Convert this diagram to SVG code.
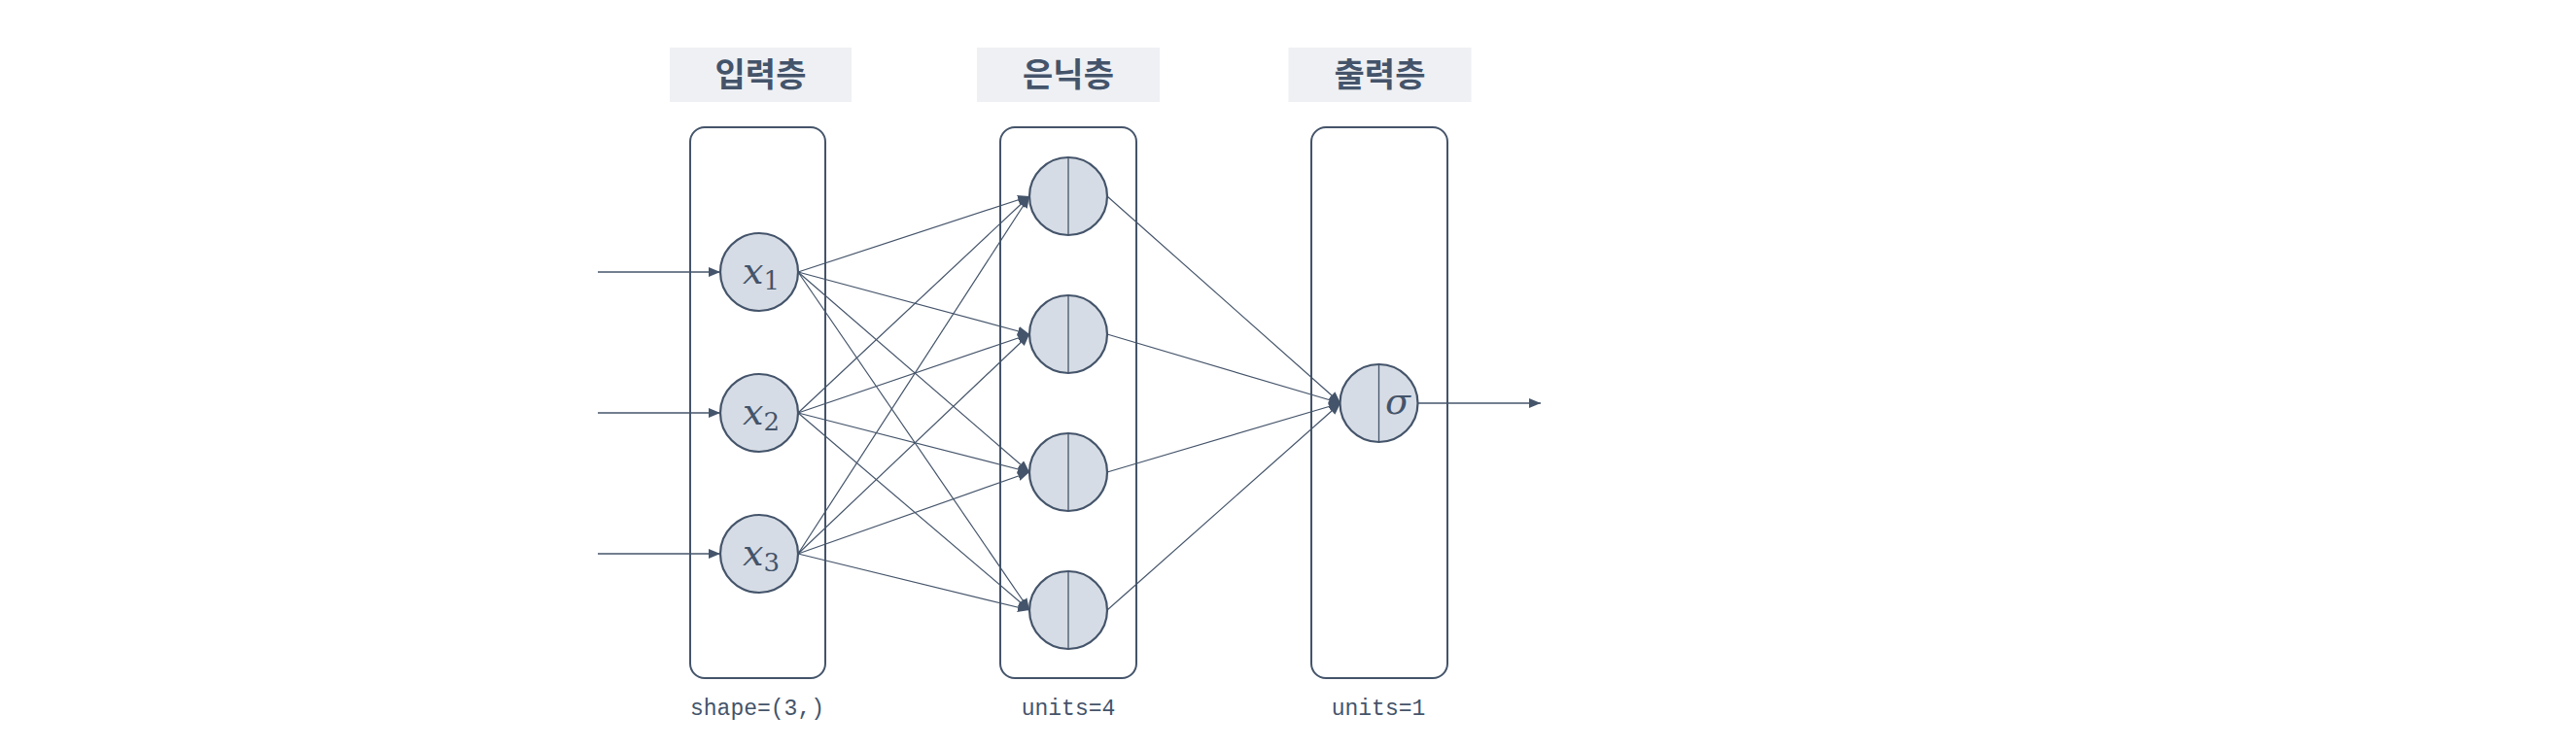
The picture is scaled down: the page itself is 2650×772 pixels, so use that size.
<svg xmlns="http://www.w3.org/2000/svg" width="2650" height="772" viewBox="0 0 2650 772">
<style>
.hdr{fill:#EEF0F4}
.hdrt{font-family:"Noto Sans CJK KR",sans-serif;font-weight:bold;font-size:34px;fill:#44546A;text-anchor:middle}
.layer{fill:none;stroke:#44546A;stroke-width:2}
.node{fill:#D6DCE5;stroke:#44546A;stroke-width:2.2}
.div{stroke:#44546A;stroke-width:1.3}
.conn{stroke:#44546A;stroke-width:1.2;fill:none}
.inout{stroke:#44546A;stroke-width:1.4;fill:none}
.math{font-family:"DejaVu Serif",serif;font-style:italic;font-size:38px;fill:#44546A}
.sub{font-style:normal;font-size:26px}
.lbl{font-family:"Liberation Mono",monospace;font-size:23px;fill:#44546A;text-anchor:middle}
</style>
<defs>
<marker id="arr" markerUnits="userSpaceOnUse" markerWidth="13" markerHeight="11" refX="12" refY="5" orient="auto">
<path d="M0,0 L12,5 L0,10 z" fill="#44546A"/>
</marker>
</defs>
<rect width="2650" height="772" fill="#FFFFFF"/>

<g id="header-input"><rect class="hdr" x="689" y="49" width="187" height="56"/><text class="hdrt" x="782.5" y="89">입력층</text></g>
<g id="header-hidden"><rect class="hdr" x="1005" y="49" width="188" height="56"/><text class="hdrt" x="1099" y="89">은닉층</text></g>
<g id="header-output"><rect class="hdr" x="1325.5" y="49" width="188" height="56"/><text class="hdrt" x="1419.5" y="89">출력층</text></g>

<g id="layer-input"><rect class="layer" x="710" y="131" width="139" height="567" rx="15"/><text class="lbl" x="779" y="736">shape=(3,)</text></g>
<g id="layer-hidden"><rect class="layer" x="1029" y="131" width="140" height="567" rx="15"/><text class="lbl" x="1099" y="736">units=4</text></g>
<g id="layer-output"><rect class="layer" x="1349" y="131" width="140" height="567" rx="15"/><text class="lbl" x="1418" y="736">units=1</text></g>

<g id="connectors">
<line class="inout" x1="615" y1="280" x2="741" y2="280" marker-end="url(#arr)"/>
<line class="inout" x1="615" y1="425" x2="741" y2="425" marker-end="url(#arr)"/>
<line class="inout" x1="615" y1="570" x2="741" y2="570" marker-end="url(#arr)"/>

<line class="conn" x1="821" y1="280" x2="1059" y2="202" marker-end="url(#arr)"/>
<line class="conn" x1="821" y1="280" x2="1059" y2="344" marker-end="url(#arr)"/>
<line class="conn" x1="821" y1="280" x2="1059" y2="486" marker-end="url(#arr)"/>
<line class="conn" x1="821" y1="280" x2="1059" y2="628" marker-end="url(#arr)"/>
<line class="conn" x1="821" y1="425" x2="1059" y2="202" marker-end="url(#arr)"/>
<line class="conn" x1="821" y1="425" x2="1059" y2="344" marker-end="url(#arr)"/>
<line class="conn" x1="821" y1="425" x2="1059" y2="486" marker-end="url(#arr)"/>
<line class="conn" x1="821" y1="425" x2="1059" y2="628" marker-end="url(#arr)"/>
<line class="conn" x1="821" y1="570" x2="1059" y2="202" marker-end="url(#arr)"/>
<line class="conn" x1="821" y1="570" x2="1059" y2="344" marker-end="url(#arr)"/>
<line class="conn" x1="821" y1="570" x2="1059" y2="486" marker-end="url(#arr)"/>
<line class="conn" x1="821" y1="570" x2="1059" y2="628" marker-end="url(#arr)"/>

<line class="conn" x1="1139" y1="202" x2="1379" y2="415" marker-end="url(#arr)"/>
<line class="conn" x1="1139" y1="344" x2="1379" y2="415" marker-end="url(#arr)"/>
<line class="conn" x1="1139" y1="486" x2="1379" y2="415" marker-end="url(#arr)"/>
<line class="conn" x1="1139" y1="628" x2="1379" y2="415" marker-end="url(#arr)"/>

<line class="inout" x1="1458" y1="415" x2="1585" y2="415" marker-end="url(#arr)"/>
</g>

<g id="x1"><circle class="node" cx="781" cy="280" r="40"/><text class="math" x="764" y="292">x<tspan class="sub" dy="6">1</tspan></text></g>
<g id="x2"><circle class="node" cx="781" cy="425" r="40"/><text class="math" x="764" y="437">x<tspan class="sub" dy="6">2</tspan></text></g>
<g id="x3"><circle class="node" cx="781" cy="570" r="40"/><text class="math" x="764" y="582">x<tspan class="sub" dy="6">3</tspan></text></g>

<g id="h1"><circle class="node" cx="1099" cy="202" r="40"/><line class="div" x1="1099" y1="162" x2="1099" y2="242"/></g>
<g id="h2"><circle class="node" cx="1099" cy="344" r="40"/><line class="div" x1="1099" y1="304" x2="1099" y2="384"/></g>
<g id="h3"><circle class="node" cx="1099" cy="486" r="40"/><line class="div" x1="1099" y1="446" x2="1099" y2="526"/></g>
<g id="h4"><circle class="node" cx="1099" cy="628" r="40"/><line class="div" x1="1099" y1="588" x2="1099" y2="668"/></g>

<g id="out"><circle class="node" cx="1418.5" cy="415" r="40"/><line class="div" x1="1418.5" y1="375" x2="1418.5" y2="455"/><text class="math" x="1425" y="426">σ</text></g>
</svg>
